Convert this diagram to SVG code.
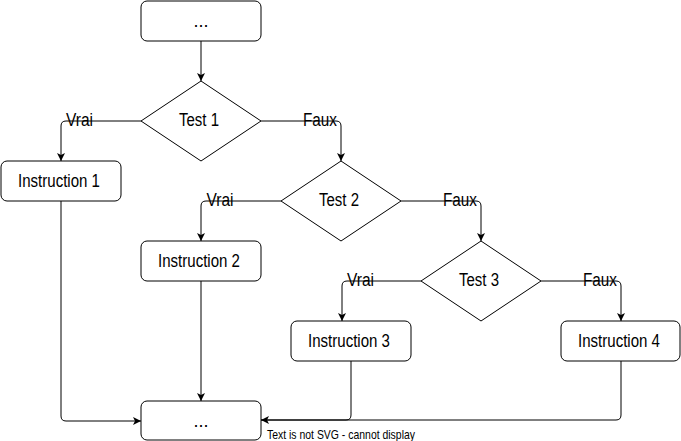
<svg xmlns="http://www.w3.org/2000/svg" width="681" height="441" viewBox="0 0 681 441">
<style>
.box{fill:#fff;stroke:#000;stroke-width:1}
.t{font-family:"Liberation Sans Narrow","Liberation Sans",Arial,sans-serif;font-size:18px;fill:#000;text-anchor:middle}
.e{fill:none;stroke:#000;stroke-width:1}
.note{font-family:"Liberation Sans Narrow","Liberation Sans",Arial,sans-serif;font-size:12.6px;fill:#000}
</style>
<defs>
<marker id="arr" viewBox="0 0 10 10" refX="10" refY="5" markerWidth="8" markerHeight="8" markerUnits="userSpaceOnUse" orient="auto">
<path d="M0,0 L10,5 L0,10 L2.5,5 Z" fill="#000"/>
</marker>
</defs>
<g id="connectors">
<path class="e" d="M201,41 V81" marker-end="url(#arr)"/>
<path class="e" d="M141,121 H66 Q61,121 61,126 V161" marker-end="url(#arr)"/>
<path class="e" d="M261,121 H336 Q341,121 341,126 V161" marker-end="url(#arr)"/>
<path class="e" d="M281,201 H206 Q201,201 201,206 V241" marker-end="url(#arr)"/>
<path class="e" d="M401,201 H476 Q481,201 481,206 V241" marker-end="url(#arr)"/>
<path class="e" d="M421,281 H347 Q342,281 342,286 V321" marker-end="url(#arr)"/>
<path class="e" d="M541,281 H616 Q621,281 621,286 V321" marker-end="url(#arr)"/>
<path class="e" d="M61,201 V416 Q61,421 66,421 H141" marker-end="url(#arr)"/>
<path class="e" d="M201,281 V401" marker-end="url(#arr)"/>
<path class="e" d="M351,361 V415 Q351,420 346,420 H261" marker-end="url(#arr)"/>
<path class="e" d="M621,361 V415 Q621,420 616,420 H261"/>
<text class="t" x="79.5" y="126" textLength="27" lengthAdjust="spacingAndGlyphs">Vrai</text>
<text class="t" x="320" y="126" textLength="34" lengthAdjust="spacingAndGlyphs">Faux</text>
<text class="t" x="220" y="206" textLength="27" lengthAdjust="spacingAndGlyphs">Vrai</text>
<text class="t" x="460" y="206" textLength="34" lengthAdjust="spacingAndGlyphs">Faux</text>
<text class="t" x="360.5" y="286" textLength="27" lengthAdjust="spacingAndGlyphs">Vrai</text>
<text class="t" x="600" y="286" textLength="34" lengthAdjust="spacingAndGlyphs">Faux</text>
</g>
<g id="start"><rect class="box" x="141" y="1" width="120" height="40" rx="6"/><text class="t" x="201" y="27">...</text></g>
<g id="test1"><path class="box" d="M201,81 L261,121 L201,161 L141,121 Z"/><text class="t" x="199" y="126" textLength="40" lengthAdjust="spacingAndGlyphs">Test 1</text></g>
<g id="instr1"><rect class="box" x="1" y="161" width="120" height="40" rx="6"/><text class="t" x="59" y="187" textLength="82" lengthAdjust="spacingAndGlyphs">Instruction 1</text></g>
<g id="test2"><path class="box" d="M341,161 L401,201 L341,241 L281,201 Z"/><text class="t" x="339" y="206" textLength="40" lengthAdjust="spacingAndGlyphs">Test 2</text></g>
<g id="instr2"><rect class="box" x="141" y="241" width="120" height="40" rx="6"/><text class="t" x="199" y="267" textLength="82" lengthAdjust="spacingAndGlyphs">Instruction 2</text></g>
<g id="test3"><path class="box" d="M481,241 L541,281 L481,321 L421,281 Z"/><text class="t" x="479" y="286" textLength="40" lengthAdjust="spacingAndGlyphs">Test 3</text></g>
<g id="instr3"><rect class="box" x="291" y="321" width="120" height="40" rx="6"/><text class="t" x="349" y="347" textLength="82" lengthAdjust="spacingAndGlyphs">Instruction 3</text></g>
<g id="instr4"><rect class="box" x="561" y="321" width="119" height="40" rx="6"/><text class="t" x="619" y="347" textLength="82" lengthAdjust="spacingAndGlyphs">Instruction 4</text></g>
<g id="end"><rect class="box" x="141" y="401" width="120" height="39" rx="6"/><text class="t" x="201" y="427">...</text></g>
<text class="note" x="267" y="439" textLength="148" lengthAdjust="spacingAndGlyphs">Text is not SVG - cannot display</text>
</svg>
